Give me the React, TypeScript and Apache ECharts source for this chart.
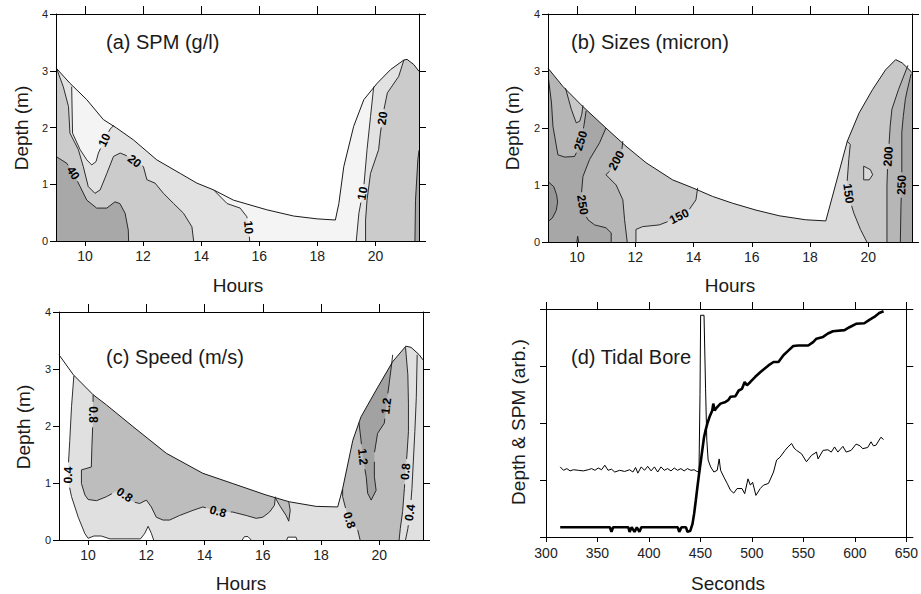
import React, { useEffect, useRef } from 'react';
import * as echarts from 'echarts';

const FONT = '"Liberation Sans", Arial, Helvetica, sans-serif';

// ---------- ticks ----------
const HOUR_TICKS = [10, 12, 14, 16, 18, 20];
const HOUR_MIN = 9;
const HOUR_MAX = 21.5;
const DEPTH_MIN = 0;
const DEPTH_MAX = 4;
const SEC_MIN = 300;
const SEC_MAX = 650;

// ---------- panel (a) SPM (g/l) ----------
const surfaceA = [[9.0, 3.05], [9.48, 2.78], [10.06, 2.49], [10.63, 2.14], [11.09, 1.99], [11.67, 1.78], [12.47, 1.43], [13.28, 1.19], [13.85, 1.02], [14.43, 0.9], [15.11, 0.72], [16.26, 0.55], [17.18, 0.44], [17.99, 0.39], [18.62, 0.37], [18.74, 0.66], [18.91, 1.31], [19.25, 2.02], [19.6, 2.49], [20.06, 2.78], [20.52, 3.02], [20.98, 3.19], [21.09, 3.2], [21.32, 3.11], [21.5, 2.99]];
const spm10Left = [[9.54, 2.72], [9.57, 1.9], [9.83, 1.61], [10.06, 1.43], [10.23, 1.34], [10.38, 1.4], [10.46, 1.55], [10.69, 1.8], [10.86, 1.97], [11.0, 2.04]];
const spm20Left = [[9.02, 3.04], [9.25, 2.72], [9.43, 2.37], [9.48, 1.9], [9.77, 1.61], [9.94, 1.31], [10.11, 0.96], [10.34, 0.84], [10.52, 0.9], [10.75, 1.19], [10.98, 1.49], [11.21, 1.55], [11.49, 1.49], [11.72, 1.4], [12.01, 1.31], [12.13, 1.08], [12.41, 1.02], [12.7, 0.84], [13.05, 0.66], [13.39, 0.49], [13.68, 0.25], [13.74, 0]];
const spm40Left = [[9.0, 1.49], [9.37, 1.37], [9.6, 1.19], [9.83, 0.96], [10.06, 0.72], [10.4, 0.58], [10.75, 0.58], [11.03, 0.69], [11.2, 0.66], [11.38, 0.49], [11.49, 0.19], [11.5, 0]];
const spm10Mid = [[14.43, 0.9], [14.89, 0.66], [15.34, 0.58], [15.57, 0.43], [15.63, 0.25], [15.67, 0]];
const spm10Right = [[19.94, 2.72], [19.83, 2.19], [19.71, 1.61], [19.6, 0.96], [19.43, 0.49], [19.34, 0]];
const spm20Right = [[20.98, 3.19], [20.8, 2.9], [20.41, 2.61], [20.29, 2.31], [20.17, 1.9], [20.11, 1.61], [19.83, 1.19], [19.71, 0.72], [19.66, 0.37], [19.66, 0]];
const spm40Right = [[21.5, 1.6], [21.46, 1.43], [21.38, 0.72], [21.36, 0]];
const shadesA = ['#f4f4f4', '#e2e2e2', '#cbcbcb', '#a8a8a8'];

// ---------- panel (b) Sizes (micron) ----------
const surfaceB = [[9.0, 3.05], [9.51, 2.73], [10.19, 2.38], [10.99, 2.0], [11.68, 1.68], [12.37, 1.39], [13.28, 1.09], [13.97, 0.95], [14.65, 0.8], [15.34, 0.68], [16.14, 0.56], [16.94, 0.46], [17.85, 0.39], [18.54, 0.37], [19.28, 1.77], [19.68, 2.26], [20.14, 2.67], [20.59, 3.02], [20.94, 3.2], [21.17, 3.14], [21.47, 2.99], [21.5, 2.97]];
const size250a = [[9.02, 2.85], [9.12, 2.44], [9.17, 2.03], [9.34, 1.53], [9.57, 1.49], [9.91, 1.5], [10.03, 1.62], [10.14, 1.8], [10.23, 2.03], [10.31, 2.3]];
const sizeWedge = [[9.6, 2.7], [9.8, 2.33], [9.97, 2.09], [10.09, 2.12], [10.16, 2.24], [10.2, 2.4]];
const size250b = [[10.99, 2.0], [10.77, 1.74], [10.43, 1.45], [10.2, 1.15], [10.14, 0.8], [10.22, 0.55], [10.37, 0.39], [10.6, 0.3], [10.99, 0.25], [11.17, 0.16], [11.17, 0]];
const size200 = [[11.57, 1.77], [11.53, 1.59], [11.17, 1.27], [10.99, 1.18], [11.34, 1.0], [11.57, 0.74], [11.63, 0.39], [11.72, 0]];
const size150 = [[12.02, 0], [12.02, 0.22], [12.25, 0.27], [12.82, 0.3], [13.28, 0.39], [13.51, 0.45], [13.85, 0.57], [14.08, 0.74], [14.14, 0.95]];
const sizeCore = [[9.0, 1.06], [9.2, 0.97], [9.3, 0.82], [9.33, 0.7], [9.28, 0.55], [9.15, 0.42], [9.0, 0.36]];
const sizeSpeck = [[9.99, 0], [10.02, 0.1], [10.05, 0]];
const size150R = [[19.27, 1.77], [19.38, 1.71], [19.33, 1.45], [19.27, 1.04], [19.33, 0.8], [19.5, 0.51], [19.73, 0.22], [19.95, 0]];
const sizeD = [[19.84, 1.33], [20.07, 1.27], [20.15, 1.18], [20.03, 1.09], [19.84, 1.09], [19.84, 1.33]];
const size200R = [[21.36, 3.1], [21.04, 2.68], [20.81, 2.33], [20.75, 2.03], [20.7, 1.62], [20.66, 1.3], [20.64, 1.0], [20.64, 0]];
const size250R = [[21.47, 2.95], [21.33, 2.65], [21.27, 2.5], [21.2, 2.2], [21.15, 1.92], [21.15, 1.15], [21.12, 0.6], [21.1, 0]];
const shadesB = ['#dadada', '#c8c8c8', '#b6b6b6', '#a7a7a7', '#969696'];

// ---------- panel (c) Speed (m/s) ----------
const surfaceC = [[9.0, 3.25], [9.49, 2.9], [10.17, 2.55], [10.63, 2.37], [11.54, 1.99], [12.69, 1.52], [13.94, 1.17], [14.97, 0.99], [16.11, 0.79], [16.91, 0.67], [17.83, 0.59], [18.57, 0.58], [18.74, 0.9], [19.09, 1.75], [19.37, 2.16], [19.89, 2.63], [20.46, 3.13], [20.91, 3.4], [21.09, 3.38], [21.37, 3.25], [21.5, 3.16]];
const speed04L = [[9.51, 2.88], [9.43, 2.34], [9.37, 1.75], [9.32, 1.3], [9.31, 1.05], [9.43, 0.76], [9.66, 0.4], [9.89, 0.11], [10.0, 0.03], [10.2, 0.07], [10.45, 0.07], [10.75, 0.02], [11.3, 0.02], [11.8, 0.02], [11.95, 0.12], [12.06, 0.24], [12.17, 0.12], [12.25, 0]];
const speed08L = [[10.17, 2.55], [10.17, 2.16], [10.13, 1.64], [10.11, 1.28], [9.77, 1.23], [9.77, 0.99], [9.89, 0.79], [10.0, 0.71], [10.29, 0.69], [10.63, 0.76], [11.03, 0.87], [11.26, 0.79], [11.54, 0.67], [11.77, 0.64], [12.0, 0.7], [12.17, 0.58], [12.34, 0.4], [12.57, 0.35], [12.8, 0.35], [13.14, 0.43], [13.6, 0.52], [13.94, 0.58], [14.46, 0.5], [14.97, 0.49], [15.43, 0.43], [15.77, 0.38], [16.0, 0.4], [16.23, 0.49], [16.4, 0.61], [16.43, 0.76]];
const speedWedge = [[16.43, 0.74], [16.57, 0.61], [16.8, 0.43], [16.89, 0.33], [16.94, 0.52], [16.89, 0.67]];
const speed08RL = [[18.74, 0.9], [18.74, 0.76], [18.86, 0.52], [18.97, 0.35], [19.26, 0.17], [19.34, 0]];
const speed08RR = [[20.9, 3.38], [20.98, 2.9], [21.0, 2.4], [21.0, 1.9], [20.95, 1.5], [20.9, 1.2], [20.86, 0.9], [20.8, 0.5], [20.72, 0.2], [20.68, 0]];
const speed12 = [[19.3, 2.06], [19.37, 1.76], [19.43, 1.46], [19.55, 1.11], [19.6, 0.82], [19.72, 0.7], [19.89, 0.87], [19.83, 1.11], [19.83, 1.52], [19.94, 1.87], [20.17, 2.05], [20.28, 2.52], [20.4, 2.99], [20.46, 3.25]];
const speed04R = [[21.3, 3.25], [21.27, 2.5], [21.22, 1.9], [21.16, 1.3], [21.12, 0.9], [21.06, 0.5], [20.98, 0.2], [20.9, 0]];
const speedCalm1 = [[15.29, 0], [15.37, 0.06], [15.49, 0.06], [15.6, 0]];
const speedCalm2 = [[16.82, 0], [16.86, 0.05], [17.14, 0.05], [17.17, 0]];
const shadesC = ['#ffffff', '#e0e0e0', '#bdbdbd', '#a2a2a2'];

// ---------- panel (d) Tidal bore ----------
const depthTrace = [[313.8, 0.17], [362, 0.17], [363.6, 0.09], [365.2, 0.17], [380, 0.17], [381.2, 0.09], [383.2, 0.17], [386, 0.09], [388.2, 0.17], [390.8, 0.09], [392.6, 0.17], [428, 0.17], [429.4, 0.09], [431.6, 0.17], [436, 0.17], [437.4, 0.09], [440.2, 0.11], [442.3, 0.23], [443.9, 0.41], [445.5, 0.64], [447.1, 0.88], [448.7, 1.11], [450.9, 1.4], [453.5, 1.75], [455, 1.87], [456.7, 1.99], [458.9, 2.11], [461.5, 2.22], [462.5, 2.34], [463.8, 2.22], [466.3, 2.28], [469.5, 2.34], [474.4, 2.37], [477, 2.4], [479.2, 2.46], [484, 2.47], [487.2, 2.57], [490.4, 2.6], [493, 2.72], [495.2, 2.66], [498.5, 2.72], [503.3, 2.81], [508.1, 2.89], [511.3, 2.94], [516.1, 3.01], [521, 3.07], [525.8, 3.07], [530.6, 3.19], [535.4, 3.27], [540.2, 3.35], [545, 3.36], [554.7, 3.36], [559.5, 3.42], [562.7, 3.48], [569.1, 3.51], [573.9, 3.57], [578.7, 3.61], [590, 3.63], [594.8, 3.68], [601.2, 3.74], [609.2, 3.75], [614.1, 3.81], [618.9, 3.86], [623.7, 3.93], [627.9, 3.96]];
const spmTrace = [[313.8, 1.23], [317, 1.17], [320.2, 1.2], [323.4, 1.16], [326.6, 1.18], [331.4, 1.17], [336.2, 1.16], [341, 1.18], [344.3, 1.2], [347.5, 1.17], [350.7, 1.21], [354, 1.18], [357.1, 1.26], [360.3, 1.17], [363.6, 1.19], [366.8, 1.14], [371.6, 1.17], [376.4, 1.15], [381.2, 1.18], [384.4, 1.14], [387, 1.22], [389.2, 1.12], [392.5, 1.23], [395.7, 1.17], [398.8, 1.24], [402.1, 1.16], [405.3, 1.23], [408.5, 1.14], [411.7, 1.23], [414.9, 1.17], [418.1, 1.2], [421.4, 1.16], [424.6, 1.21], [427.8, 1.17], [431, 1.2], [434.2, 1.16], [437.4, 1.2], [440.7, 1.17], [443.9, 1.18], [446.5, 1.15], [448.6, 1.14], [449.6, 2.5], [450.2, 3.89], [453.5, 3.89], [455, 2.6], [456.2, 1.7], [457.5, 1.35], [459.9, 1.23], [463.1, 1.14], [466.3, 1.17], [468.2, 1.37], [469.6, 1.17], [472.8, 1.05], [476, 0.94], [479.2, 0.82], [482.4, 0.77], [485.6, 0.85], [490.4, 0.85], [493, 0.76], [496.2, 1.02], [498.5, 0.91], [500.7, 0.96], [503.9, 0.73], [508.1, 0.85], [511.3, 0.91], [516.1, 0.94], [521, 1.14], [524, 1.35], [527.3, 1.4], [532.2, 1.52], [535, 1.58], [538.6, 1.64], [541, 1.56], [543.4, 1.52], [548.2, 1.46], [553, 1.32], [557.8, 1.43], [562.7, 1.49], [564.3, 1.37], [569.1, 1.52], [573.9, 1.53], [577.1, 1.49], [580.3, 1.58], [583.5, 1.49], [588.4, 1.59], [591.6, 1.49], [596.4, 1.52], [601.2, 1.63], [605, 1.6], [607.6, 1.55], [612.5, 1.57], [615.7, 1.67], [618, 1.6], [620.5, 1.61], [625.3, 1.75], [627.9, 1.71]];

// ---------- regions, lines, labels (built from the arrays above) ----------
const rev = (a: number[][]) => a.slice().reverse();

const fillsA = [
  { color: shadesA[0], poly: [[HOUR_MIN, 0], [HOUR_MAX, 0], [HOUR_MAX, 4], [HOUR_MIN, 4]] },
  { color: shadesA[1], poly: [[9, 0], [9, 4], [9.54, 4], ...spm10Left, [11.0, 4], [14.43, 4], ...spm10Mid] },
  { color: shadesA[1], poly: [[19.94, 4], ...spm10Right, [21.5, 0], [21.5, 4]] },
  { color: shadesA[2], poly: [[9, 4], [9.02, 4], ...spm20Left, [9, 0]] },
  { color: shadesA[2], poly: [[20.98, 4], ...spm20Right, [21.5, 0], [21.5, 4]] },
  { color: shadesA[3], poly: [...spm40Left, [9, 0]] },
  { color: shadesA[3], poly: [...spm40Right, [21.5, 0]] },
];
const linesA = [
  { pts: spm10Left, labels: [{ text: '10', at: [10.66, 1.78] }] },
  { pts: spm20Left, labels: [{ text: '20', at: [11.72, 1.42] }] },
  { pts: spm40Left, labels: [{ text: '40', at: [9.6, 1.2] }] },
  { pts: spm10Mid, labels: [{ text: '10', at: [15.64, 0.24] }] },
  { pts: spm10Right, labels: [{ text: '10', at: [19.55, 0.84] }] },
  { pts: spm20Right, labels: [{ text: '20', at: [20.29, 2.16] }] },
  { pts: spm40Right, labels: [] },
];

const fillsB = [
  { color: shadesB[0], poly: [[HOUR_MIN, 0], [HOUR_MAX, 0], [HOUR_MAX, 4], [HOUR_MIN, 4]] },
  { color: shadesB[1], poly: [[9, 0], [9, 4], [14.14, 4], ...rev(size150)] },
  { color: shadesB[1], poly: [[19.27, 4], ...size150R, [21.5, 0], [21.5, 4]] },
  { color: shadesB[0], poly: sizeD },
  { color: shadesB[2], poly: [[9, 0], [9, 4], [11.57, 4], ...size200] },
  { color: shadesB[2], poly: [[21.36, 4], ...size200R, [21.5, 0], [21.5, 4]] },
  { color: shadesB[3], poly: [[9, 0], ...size250a, [10.31, 4], [10.99, 4], ...size250b] },
  { color: shadesB[3], poly: [[21.5, 2.95], ...size250R, [21.5, 0]] },
  { color: shadesB[1], poly: [...sizeWedge, [10.2, 4], [9.6, 4]] },
  { color: shadesB[4], poly: sizeCore },
];
const linesB = [
  { pts: size250a, labels: [{ text: '250', at: [10.16, 1.77] }] },
  { pts: sizeWedge, labels: [] },
  { pts: size250b, labels: [{ text: '250', at: [10.16, 0.65] }] },
  { pts: size200, labels: [{ text: '200', at: [11.35, 1.43] }] },
  { pts: size150, labels: [{ text: '150', at: [13.5, 0.45] }] },
  { pts: sizeCore, labels: [] },
  { pts: sizeSpeck, labels: [] },
  { pts: size150R, labels: [{ text: '150', at: [19.3, 0.85] }] },
  { pts: sizeD, labels: [] },
  { pts: size200R, labels: [{ text: '200', at: [20.71, 1.5] }] },
  { pts: size250R, labels: [{ text: '250', at: [21.15, 1.0] }] },
];

const fillsC = [
  { color: shadesC[1], poly: [[HOUR_MIN, 0], [HOUR_MAX, 0], [HOUR_MAX, 4], [HOUR_MIN, 4]] },
  { color: shadesC[0], poly: [[9, 4], [9.51, 4], ...speed04L, [9, 0]] },
  { color: shadesC[0], poly: speedCalm1 },
  { color: shadesC[0], poly: speedCalm2 },
  { color: shadesC[2], poly: [[10.17, 4], ...speed08L, [16.43, 4]] },
  { color: shadesC[2], poly: speedWedge },
  { color: shadesC[2], poly: [[18.74, 4], ...speed08RL, ...rev(speed08RR), [20.9, 4]] },
  { color: shadesC[3], poly: [[19.3, 4], ...speed12, [20.46, 4]] },
];
const linesC = [
  { pts: speed04L, labels: [{ text: '0.4', at: [9.31, 1.14] }] },
  { pts: speed08L, labels: [{ text: '0.8', at: [10.17, 2.2] }, { text: '0.8', at: [11.26, 0.8] }, { text: '0.8', at: [14.46, 0.5] }] },
  { pts: speedWedge, labels: [] },
  { pts: speed08RL, labels: [{ text: '0.8', at: [18.97, 0.35] }] },
  { pts: speed08RR, labels: [{ text: '0.8', at: [20.9, 1.2] }] },
  { pts: speed12, labels: [{ text: '1.2', at: [20.23, 2.35] }, { text: '1.2', at: [19.43, 1.46] }] },
  { pts: speed04R, labels: [{ text: '0.4', at: [21.06, 0.48] }] },
  { pts: speedCalm1, labels: [] },
  { pts: speedCalm2, labels: [] },
];

// ---------- geometry helpers (pixel space) ----------
function cutPolyline(pts: number[][], holes: number[][]) {
  const out: number[][][] = [];
  let cur: number[][] = [];
  const inside = (x: number, y: number) => holes.some((h) => (x - h[0]) ** 2 + (y - h[1]) ** 2 < h[2] * h[2]);
  for (let i = 0; i < pts.length - 1; i++) {
    const p = pts[i];
    const q = pts[i + 1];
    const dx = q[0] - p[0];
    const dy = q[1] - p[1];
    const ts = [0, 1];
    for (const h of holes) {
      const fx = p[0] - h[0];
      const fy = p[1] - h[1];
      const A = dx * dx + dy * dy;
      const B = 2 * (fx * dx + fy * dy);
      const C = fx * fx + fy * fy - h[2] * h[2];
      const disc = B * B - 4 * A * C;
      if (A > 0 && disc > 0) {
        const s = Math.sqrt(disc);
        [(-B - s) / (2 * A), (-B + s) / (2 * A)].forEach((t) => {
          if (t > 0 && t < 1) ts.push(t);
        });
      }
    }
    ts.sort((a, b) => a - b);
    for (let k = 0; k < ts.length - 1; k++) {
      const a = ts[k];
      const b = ts[k + 1];
      if (b - a < 1e-9) continue;
      const m = (a + b) / 2;
      if (inside(p[0] + dx * m, p[1] + dy * m)) {
        if (cur.length > 1) out.push(cur);
        cur = [];
      } else {
        if (cur.length === 0) cur.push([p[0] + dx * a, p[1] + dy * a]);
        cur.push([p[0] + dx * b, p[1] + dy * b]);
      }
    }
  }
  if (cur.length > 1) out.push(cur);
  return out;
}

function snap(px: number[][], target: number[]) {
  let best = px[0];
  let bd = Infinity;
  let dir = [1, 0];
  for (let i = 0; i < px.length - 1; i++) {
    const p = px[i];
    const q = px[i + 1];
    const dx = q[0] - p[0];
    const dy = q[1] - p[1];
    const L = dx * dx + dy * dy;
    let t = L > 0 ? ((target[0] - p[0]) * dx + (target[1] - p[1]) * dy) / L : 0;
    t = Math.max(0, Math.min(1, t));
    const x = p[0] + t * dx;
    const y = p[1] + t * dy;
    const d = (x - target[0]) ** 2 + (y - target[1]) ** 2;
    if (d < bd) {
      bd = d;
      best = [x, y];
      dir = [dx, dy];
    }
  }
  let ang = Math.atan2(-dir[1], dir[0]);
  if (ang > Math.PI / 2) ang -= Math.PI;
  if (ang < -Math.PI / 2) ang += Math.PI;
  return { c: best, ang };
}

// ---------- series builders ----------
function fillSeries(g: number, items: any[], z: number) {
  return {
    type: 'custom',
    xAxisIndex: 2 * g,
    yAxisIndex: 2 * g,
    z,
    silent: true,
    data: items.map((it) => it.poly[0]),
    renderItem: (params: any, api: any) => {
      const it = items[params.dataIndex];
      return {
        type: 'polygon',
        shape: { points: it.poly.map((p: number[]) => api.coord(p)) },
        style: { fill: it.color, stroke: 'none' },
      };
    },
  };
}

function lineSeries(g: number, items: any[], z: number, width: number) {
  return {
    type: 'custom',
    xAxisIndex: 2 * g,
    yAxisIndex: 2 * g,
    z,
    silent: true,
    data: items.map((it) => it.pts[0]),
    renderItem: (params: any, api: any) => {
      const it = items[params.dataIndex];
      const px = it.pts.map((p: number[]) => api.coord(p));
      const labs = (it.labels || []).map((lb: any) => {
        const s = snap(px, api.coord(lb.at));
        return { ...s, text: lb.text, r: lb.text.length * 3.4 + 2.5 };
      });
      const parts = cutPolyline(px, labs.map((l: any) => [l.c[0], l.c[1], l.r]));
      const children: any[] = parts.map((pp) => ({
        type: 'polyline',
        shape: { points: pp },
        style: { stroke: '#1a1a1a', lineWidth: width, fill: 'none' },
      }));
      labs.forEach((l: any) => {
        children.push({
          type: 'text',
          x: l.c[0],
          y: l.c[1],
          rotation: l.ang,
          style: {
            text: l.text,
            fontSize: 12,
            fontWeight: 'bold',
            fontFamily: FONT,
            fill: '#000',
            align: 'center',
            verticalAlign: 'middle',
          },
        });
      });
      return { type: 'group', children };
    },
  };
}

function contourSeries(g: number, fills: any[], lines: any[], surface: number[][]) {
  const air = [{ color: '#ffffff', poly: [[HOUR_MIN, 4], ...surface, [HOUR_MAX, 4]] }];
  return [
    fillSeries(g, fills, 2),
    fillSeries(g, air, 3),
    lineSeries(g, lines, 4, 0.9),
    lineSeries(g, [{ pts: surface, labels: [] }], 5, 1),
  ];
}

// ---------- axes ----------
const axisLineStyle = { color: '#000', width: 1 };

function hourX(g: number, top: boolean) {
  return {
    type: 'value',
    gridIndex: g,
    position: top ? 'top' : 'bottom',
    min: HOUR_MIN,
    max: HOUR_MAX,
    z: 10,
    axisLine: { show: true, onZero: false, lineStyle: axisLineStyle },
    axisTick: { show: true, inside: false, length: top ? 8 : 5, customValues: HOUR_TICKS, lineStyle: axisLineStyle },
    axisLabel: top
      ? { show: false }
      : { show: true, customValues: HOUR_TICKS, fontSize: 14, color: '#222', fontFamily: FONT, margin: 8 },
    splitLine: { show: false },
  };
}

function secondsX(g: number, top: boolean) {
  return {
    type: 'value',
    gridIndex: g,
    position: top ? 'top' : 'bottom',
    min: SEC_MIN,
    max: SEC_MAX,
    interval: 50,
    z: 10,
    axisLine: { show: true, onZero: false, lineStyle: axisLineStyle },
    axisTick: { show: true, inside: false, length: top ? 7 : 5, lineStyle: axisLineStyle },
    axisLabel: top ? { show: false } : { show: true, fontSize: 14, color: '#222', fontFamily: FONT, margin: 9 },
    splitLine: { show: false },
  };
}

function depthY(g: number, right: boolean, labels: boolean) {
  return {
    type: 'value',
    gridIndex: g,
    position: right ? 'right' : 'left',
    min: DEPTH_MIN,
    max: DEPTH_MAX,
    interval: 1,
    z: 10,
    axisLine: { show: true, onZero: false, lineStyle: axisLineStyle },
    axisTick: { show: true, inside: false, length: right ? 7 : 6, lineStyle: axisLineStyle },
    axisLabel: right || !labels ? { show: false } : { show: true, fontSize: 11, color: '#222', fontFamily: FONT, margin: 8 },
    splitLine: { show: false },
  };
}

function txt(text: string, x: number, y: number, size: number, align: string, rotation = 0) {
  return {
    type: 'text',
    x,
    y,
    z: 100,
    rotation,
    silent: true,
    style: { text, fontSize: size, fontFamily: FONT, fill: '#1a1a1a', align, verticalAlign: 'middle' },
  };
}

export default function App() {
  const ref = useRef<HTMLDivElement>(null);
  useEffect(() => {
    if (!ref.current) return;
    const chart = echarts.init(ref.current, undefined, { renderer: 'svg' });
    const option: any = {
      animation: false,
      backgroundColor: '#ffffff',
      grid: [
        { left: 56, top: 14, width: 363, height: 227 },
        { left: 548, top: 14, width: 364, height: 228 },
        { left: 59, top: 312, width: 364, height: 228 },
        { left: 546, top: 309, width: 363, height: 228 },
      ],
      xAxis: [hourX(0, false), hourX(0, true), hourX(1, false), hourX(1, true), hourX(2, false), hourX(2, true), secondsX(3, false), secondsX(3, true)],
      yAxis: [depthY(0, false, true), depthY(0, true, false), depthY(1, false, true), depthY(1, true, false), depthY(2, false, true), depthY(2, true, false), depthY(3, false, false), depthY(3, true, false)],
      series: [
        ...contourSeries(0, fillsA, linesA, surfaceA),
        ...contourSeries(1, fillsB, linesB, surfaceB),
        ...contourSeries(2, fillsC, linesC, surfaceC),
        {
          type: 'line',
          name: 'SPM',
          xAxisIndex: 6,
          yAxisIndex: 6,
          data: spmTrace,
          showSymbol: false,
          symbol: 'none',
          lineStyle: { color: '#000', width: 1 },
          z: 3,
        },
        {
          type: 'line',
          name: 'Depth',
          xAxisIndex: 6,
          yAxisIndex: 6,
          data: depthTrace,
          showSymbol: false,
          symbol: 'none',
          lineStyle: { color: '#000', width: 2.6 },
          z: 4,
        },
      ],
      graphic: {
        elements: [
          txt('(a) SPM (g/l)', 106, 42, 20, 'left'),
          txt('(b) Sizes (micron)', 571, 42, 20, 'left'),
          txt('(c) Speed (m/s)', 106, 357, 20, 'left'),
          txt('(d) Tidal Bore', 571, 357, 20, 'left'),
          txt('Hours', 238, 285, 19, 'center'),
          txt('Hours', 730, 285, 19, 'center'),
          txt('Hours', 241, 583, 19, 'center'),
          txt('Seconds', 728, 583, 19, 'center'),
          txt('Depth (m)', 21, 128, 19, 'center', Math.PI / 2),
          txt('Depth (m)', 512, 128, 19, 'center', Math.PI / 2),
          txt('Depth (m)', 23, 427, 19, 'center', Math.PI / 2),
          txt('Depth & SPM (arb.)', 518, 422, 19, 'center', Math.PI / 2),
        ],
      },
    };
    chart.setOption(option);
    return () => chart.dispose();
  }, []);
  return <div ref={ref} style={{ position: 'fixed', left: 0, top: 0, width: 921, height: 594, background: '#fff' }} />;
}
